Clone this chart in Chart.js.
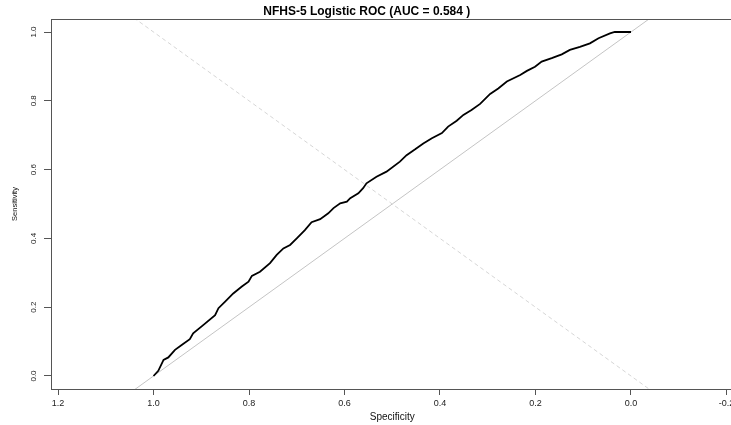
<!DOCTYPE html>
<html><head><meta charset="utf-8">
<script src="https://cdn.jsdelivr.net/npm/chart.js@4"></script>
<style>html,body{margin:0;padding:0;overflow:hidden;background:#fff}#wrap{width:784px;height:425px}</style>
</head><body><div id="wrap"><canvas id="c" width="784" height="425"></canvas></div>
<script>
const specificity = [1.000,0.990,0.979,0.969,0.955,0.941,0.924,0.917,0.896,0.871,0.864,0.850,0.833,0.815,0.801,0.794,0.777,0.756,0.742,0.728,0.714,0.700,0.683,0.669,0.651,0.634,0.623,0.609,0.595,0.588,0.571,0.561,0.554,0.533,0.512,0.484,0.470,0.452,0.435,0.417,0.396,0.383,0.365,0.351,0.334,0.316,0.295,0.278,0.260,0.232,0.218,0.201,0.187,0.166,0.145,0.128,0.107,0.086,0.068,0.044,0.034,0.000];
const sensitivity = [0.000,0.015,0.047,0.054,0.076,0.090,0.107,0.124,0.148,0.177,0.197,0.216,0.240,0.260,0.274,0.291,0.303,0.328,0.352,0.371,0.381,0.400,0.424,0.447,0.456,0.473,0.488,0.502,0.507,0.517,0.531,0.546,0.560,0.579,0.594,0.623,0.642,0.659,0.676,0.691,0.706,0.725,0.742,0.759,0.773,0.791,0.820,0.836,0.856,0.875,0.887,0.899,0.914,0.924,0.935,0.948,0.957,0.967,0.982,0.996,1.000,1.000];
const xTicks = [1.2,1.0,0.8,0.6,0.4,0.2,0.0,-0.2];
const xTickLabels = ['1.2','1.0','0.8','0.6','0.4','0.2','0.0','-0.2'];
const yTicks = [0,0.2,0.4,0.6,0.8,1.0];
const yTickLabels = ['0.0','0.2','0.4','0.6','0.8','1.0'];
const xLimits = [-0.2147, 1.2147];
const yLimits = [-0.0378, 1.0378];
const chanceLine = {intercept: 1, slope: -1};
const identityLine = {intercept: 0, slope: 1};
const titleText = 'NFHS-5 Logistic ROC (AUC = 0.584 )';

const ablinePts = l => xLimits.map(x => ({x: x, y: l.intercept + l.slope * x}));
const rocPts = specificity.map((s, i) => ({x: s, y: sensitivity[i]}));

const boxPlugin = {
  id: 'box',
  afterDraw(chart) {
    const a = chart.chartArea, ctx = chart.ctx;
    ctx.save();
    ctx.strokeStyle = '#555';
    ctx.lineWidth = 1;
    ctx.strokeRect(a.left + 0.5, a.top + 0.5, a.right - a.left, a.bottom - a.top);
    ctx.restore();
  }
};

new Chart(document.getElementById('c'), {
  type: 'line',
  data: {
    datasets: [
      {data: ablinePts(chanceLine), borderColor: '#c4c4c4', borderWidth: 1, pointRadius: 0, clip: 0, order: 3},
      {data: ablinePts(identityLine), borderColor: '#d6d6d6', borderWidth: 1, borderDash: [4, 3], pointRadius: 0, clip: 0, order: 2},
      {data: rocPts, borderColor: '#000', borderWidth: 1.8, pointRadius: 0, tension: 0, order: 1}
    ]
  },
  options: {
    responsive: false,
    devicePixelRatio: 1,
    animation: false,
    layout: {padding: {left: 0, right: 50.5, top: 0, bottom: 0}},
    plugins: {
      legend: {display: false},
      tooltip: {enabled: false},
      title: {display: true, text: titleText, color: '#000',
        font: {family: 'Liberation Sans, Arial, sans-serif', size: 12, weight: 'bold', lineHeight: 1.2},
        padding: {top: 4, bottom: 0.6}}
    },
    scales: {
      x: {
        type: 'linear', reverse: true, min: xLimits[0], max: xLimits[1],
        afterBuildTicks: s => { s.ticks = xTicks.map(v => ({value: v})); },
        afterFit: s => { s.height = 36; },
        ticks: {autoSkip: false, maxRotation: 0, minRotation: 0, padding: 3, color: '#222',
          font: {family: 'Liberation Sans, Arial, sans-serif', size: 9},
          callback: v => xTickLabels[xTicks.indexOf(v)]},
        grid: {display: true, drawOnChartArea: false, drawTicks: true, tickLength: 6, color: '#555'},
        border: {display: true, color: '#555'},
        title: {display: true, text: 'Specificity', color: '#111',
          font: {family: 'Liberation Sans, Arial, sans-serif', size: 10}, padding: {top: 0, bottom: 2}}
      },
      y: {
        type: 'linear', min: yLimits[0], max: yLimits[1],
        afterBuildTicks: s => { s.ticks = yTicks.map(v => ({value: v})); },
        afterFit: s => { s.width = 51; },
        ticks: {autoSkip: false, minRotation: 90, maxRotation: 90, crossAlign: 'center', padding: 5, color: '#222',
          font: {family: 'Liberation Sans, Arial, sans-serif', size: 8},
          callback: v => yTickLabels[yTicks.indexOf(v)]},
        grid: {display: true, drawOnChartArea: false, drawTicks: true, tickLength: 7, color: '#555'},
        border: {display: true, color: '#555'},
        title: {display: true, text: 'Sensitivity', color: '#111',
          font: {family: 'Liberation Sans, Arial, sans-serif', size: 7.5}, padding: {top: 10, bottom: 0}}
      }
    }
  },
  plugins: [boxPlugin]
});
</script></body></html>
